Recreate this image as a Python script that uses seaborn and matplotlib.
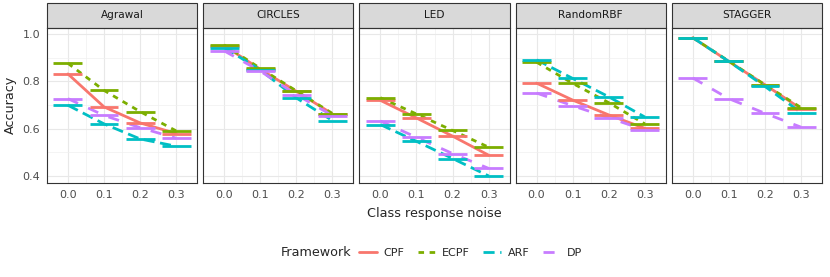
import matplotlib
matplotlib.use("Agg")
import matplotlib.pyplot as plt
from matplotlib.lines import Line2D
from matplotlib.patches import Rectangle
import seaborn as sns
import numpy as np
import pandas as pd

# --- data ---
noise = [0.0, 0.1, 0.2, 0.3]
datasets = ["Agrawal", "CIRCLES", "LED", "RandomRBF", "STAGGER"]
frameworks = ["CPF", "ECPF", "ARF", "DP"]

cpf = {
    "Agrawal":   [0.832, 0.692, 0.624, 0.579],
    "CIRCLES":   [0.952, 0.852, 0.758, 0.662],
    "LED":       [0.720, 0.645, 0.568, 0.487],
    "RandomRBF": [0.793, 0.721, 0.658, 0.601],
    "STAGGER":   [0.986, 0.885, 0.786, 0.684],
}
ecpf = {
    "Agrawal":   [0.877, 0.762, 0.672, 0.590],
    "CIRCLES":   [0.955, 0.856, 0.760, 0.664],
    "LED":       [0.731, 0.662, 0.592, 0.521],
    "RandomRBF": [0.882, 0.792, 0.710, 0.620],
    "STAGGER":   [0.986, 0.886, 0.786, 0.689],
}
arf = {
    "Agrawal":   [0.699, 0.620, 0.556, 0.525],
    "CIRCLES":   [0.944, 0.849, 0.730, 0.634],
    "LED":       [0.617, 0.546, 0.473, 0.399],
    "RandomRBF": [0.892, 0.813, 0.735, 0.649],
    "STAGGER":   [0.986, 0.885, 0.779, 0.668],
}
dp = {
    "Agrawal":   [0.727, 0.656, 0.604, 0.559],
    "CIRCLES":   [0.930, 0.844, 0.744, 0.655],
    "LED":       [0.632, 0.563, 0.494, 0.431],
    "RandomRBF": [0.751, 0.697, 0.646, 0.594],
    "STAGGER":   [0.815, 0.727, 0.665, 0.606],
}
results = {"CPF": cpf, "ECPF": ecpf, "ARF": arf, "DP": dp}

rows = []
for fw in frameworks:
    for ds in datasets:
        for x, v in zip(noise, results[fw][ds]):
            rows.append({"Framework": fw, "Dataset": ds, "Noise": x, "Accuracy": v})
df = pd.DataFrame(rows)

palette = {"CPF": "#F8766D", "ECPF": "#7CAE00", "ARF": "#00BFC4", "DP": "#C77CFF"}
dashes = {"CPF": "", "ECPF": (2, 2), "ARF": (4, 2), "DP": (4, 4)}

sns.set_style("white")
plt.rcParams["font.family"] = ["DejaVu Sans"]

fig = plt.figure(figsize=(8.3, 2.77), dpi=100)
W, H = 830, 277
left, right = 47, 822
gap = 6
pw = (right - left - 4 * gap) / 5
top, bottom = 28, 183
lw = 2.0

for i, ds in enumerate(datasets):
    x0 = left + i * (pw + gap)
    ax = fig.add_axes([x0 / W, 1 - bottom / H, pw / W, (bottom - top) / H])
    sub = df[df["Dataset"] == ds]
    sns.lineplot(data=sub, x="Noise", y="Accuracy", hue="Framework", style="Framework",
                 hue_order=frameworks, style_order=frameworks, palette=palette,
                 dashes=dashes, linewidth=lw, legend=False, ax=ax, zorder=3)
    # short horizontal bars at each noise level
    for fw in frameworks:
        d = sub[sub["Framework"] == fw]
        ax.hlines(d["Accuracy"], d["Noise"] - 0.04, d["Noise"] + 0.04,
                  color=palette[fw], linewidth=lw, zorder=3)
    ax.set_xlim(-0.058, 0.358)
    ax.set_ylim(0.369, 1.027)
    ax.set_xticks(noise)
    ax.set_xticklabels(["0.0", "0.1", "0.2", "0.3"])
    ax.set_xticks([0.05, 0.15, 0.25], minor=True)
    ax.set_yticks([0.4, 0.6, 0.8, 1.0])
    ax.set_yticks([0.5, 0.7, 0.9], minor=True)
    ax.grid(True, which="major", color="#E8E8E8", linewidth=0.8, zorder=0)
    ax.grid(True, which="minor", color="#F0F0F0", linewidth=0.5, zorder=0)
    ax.set_axisbelow(True)
    ax.tick_params(axis="both", which="major", length=3, width=0.6, color="#333333",
                   labelsize=8, labelcolor="#4D4D4D", pad=2)
    ax.tick_params(axis="both", which="minor", length=0)
    if i == 0:
        ax.set_yticklabels(["0.4", "0.6", "0.8", "1.0"])
    else:
        ax.tick_params(axis="y", which="major", labelleft=False)
    ax.set_xlabel("")
    ax.set_ylabel("")
    for s in ax.spines.values():
        s.set_color("#333333")
        s.set_linewidth(0.8)
        s.set_visible(True)
    # facet strip
    sh = 25 / (bottom - top)
    ax.add_patch(Rectangle((0, 1), 1, sh, transform=ax.transAxes, facecolor="#D9D9D9",
                           edgecolor="#333333", linewidth=0.8, clip_on=False))
    ax.text(0.5, 1 + sh / 2, ds, transform=ax.transAxes, ha="center", va="center",
            fontsize=7.6, color="#1A1A1A")

fig.text(10 / W, 1 - 105 / H, "Accuracy", rotation=90, ha="center", va="center", fontsize=9.2)
fig.text((left + right) / 2 / W, 1 - 213 / H, "Class response noise", ha="center", va="center",
         fontsize=9.2)

handles = []
for fw in frameworks:
    h = Line2D([], [], color=palette[fw], linewidth=lw)
    if dashes[fw]:
        h.set_dashes(dashes[fw])
    handles.append(h)
fig.text(281 / W, 1 - 253 / H, "Framework", ha="left", va="center", fontsize=9.2)
fig.legend(handles, frameworks, loc="center left", bbox_to_anchor=(359 / W, 1 - 253 / H),
           ncol=4, frameon=False, fontsize=8, handlelength=1.6, handletextpad=0.6,
           columnspacing=1.2, borderaxespad=0, borderpad=0)

fig.savefig("out.png", dpi=100)
